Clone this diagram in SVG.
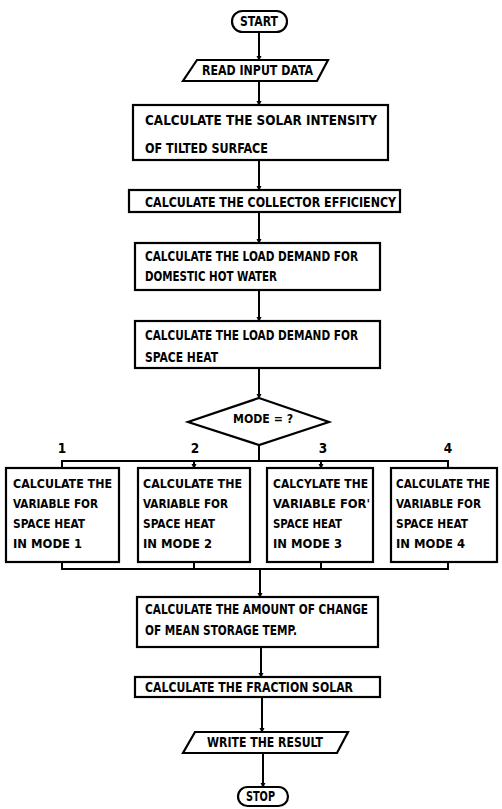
<svg xmlns="http://www.w3.org/2000/svg" width="502" height="809" viewBox="0 0 502 809">
<style>
.b{fill:#fff;stroke:#000;stroke-width:2.2}
.t{font-family:"DejaVu Sans Condensed","DejaVu Sans",sans-serif;font-weight:bold;font-size:13.5px;fill:#000}
.m{font-size:12.5px}
.c{fill:none;stroke:#000;stroke-width:2}
</style>
<defs>
<marker id="d" markerUnits="userSpaceOnUse" markerWidth="6" markerHeight="6" refX="3" refY="4" viewBox="0 0 6 6">
<path d="M0.5,0 L5.5,0 L3,5 Z" fill="#000"/>
</marker>
</defs>
<rect width="502" height="809" fill="#fff"/>
<g id="connectors">
<line class="c" x1="259" y1="32" x2="259" y2="60" marker-end="url(#d)"/>
<line class="c" x1="259" y1="81" x2="259" y2="105" marker-end="url(#d)"/>
<line class="c" x1="259" y1="160" x2="259" y2="190" marker-end="url(#d)"/>
<line class="c" x1="259" y1="212" x2="259" y2="243" marker-end="url(#d)"/>
<line class="c" x1="259" y1="290" x2="259" y2="321" marker-end="url(#d)"/>
<line class="c" x1="259" y1="368" x2="259" y2="398" marker-end="url(#d)"/>
<line class="c" x1="259" y1="445" x2="259" y2="461"/>
<polyline class="c" points="62,468 62,461 448,461 448,468"/>
<line class="c" x1="194" y1="461" x2="194" y2="468" marker-end="url(#d)"/>
<line class="c" x1="321" y1="461" x2="321" y2="468" marker-end="url(#d)"/>
<polyline class="c" points="62,562 62,569 448,569 448,562"/>
<line class="c" x1="194" y1="562" x2="194" y2="569"/>
<line class="c" x1="321" y1="562" x2="321" y2="569"/>
<line class="c" x1="260" y1="569" x2="260" y2="597" marker-end="url(#d)"/>
<line class="c" x1="261" y1="647" x2="261" y2="677" marker-end="url(#d)"/>
<line class="c" x1="262" y1="697" x2="262" y2="732" marker-end="url(#d)"/>
<line class="c" x1="263" y1="753" x2="263" y2="787" marker-end="url(#d)"/>
</g>
<g id="start">
<rect class="b" x="232" y="11" width="55" height="21" rx="10.5"/>
<text class="t" x="240" y="26" textLength="38" lengthAdjust="spacingAndGlyphs">START</text>
</g>
<g id="read">
<polygon class="b" points="197,60 328,60 317,81 183,81"/>
<text class="t" x="202" y="75" textLength="111" lengthAdjust="spacingAndGlyphs">READ INPUT DATA</text>
</g>
<g id="solar">
<rect class="b" x="133" y="105" width="255" height="55"/>
<text class="t" x="145" y="125" textLength="232" lengthAdjust="spacingAndGlyphs">CALCULATE THE SOLAR INTENSITY</text>
<text class="t" x="145" y="153" textLength="123" lengthAdjust="spacingAndGlyphs">OF TILTED SURFACE</text>
</g>
<g id="efficiency">
<rect class="b" x="129" y="190" width="271" height="22"/>
<text class="t" x="145" y="207" textLength="251" lengthAdjust="spacingAndGlyphs">CALCULATE THE COLLECTOR EFFICIENCY</text>
</g>
<g id="hotwater">
<rect class="b" x="135" y="243" width="245" height="47"/>
<text class="t" x="145" y="261" textLength="213" lengthAdjust="spacingAndGlyphs">CALCULATE THE LOAD DEMAND FOR</text>
<text class="t" x="145" y="281" textLength="132" lengthAdjust="spacingAndGlyphs">DOMESTIC HOT WATER</text>
</g>
<g id="spaceheat">
<rect class="b" x="135" y="321" width="245" height="47"/>
<text class="t" x="145" y="340" textLength="213" lengthAdjust="spacingAndGlyphs">CALCULATE THE LOAD DEMAND FOR</text>
<text class="t" x="145" y="362" textLength="73" lengthAdjust="spacingAndGlyphs">SPACE HEAT</text>
</g>
<g id="mode">
<polygon class="b" points="259,398 329,422 259,445 188,422"/>
<text class="t" x="233" y="423" textLength="60" lengthAdjust="spacingAndGlyphs" style="font-size:11.5px">MODE = ?</text>
</g>
<g id="labels">
<text class="t" x="62" y="453" text-anchor="middle">1</text>
<text class="t" x="195" y="453" text-anchor="middle">2</text>
<text class="t" x="323" y="453" text-anchor="middle">3</text>
<text class="t" x="448" y="453" text-anchor="middle">4</text>
</g>
<g id="mode1">
<rect class="b" x="6" y="468" width="113" height="94"/>
<text class="t m" x="13" y="488" textLength="99" lengthAdjust="spacingAndGlyphs">CALCULATE THE</text>
<text class="t m" x="13" y="508" textLength="85" lengthAdjust="spacingAndGlyphs">VARIABLE FOR</text>
<text class="t m" x="13" y="528" textLength="72" lengthAdjust="spacingAndGlyphs">SPACE HEAT</text>
<text class="t m" x="13" y="548" textLength="69" lengthAdjust="spacingAndGlyphs">IN MODE 1</text>
</g>
<g id="mode2">
<rect class="b" x="138" y="468" width="112" height="94"/>
<text class="t m" x="143" y="488" textLength="99" lengthAdjust="spacingAndGlyphs">CALCULATE THE</text>
<text class="t m" x="143" y="508" textLength="85" lengthAdjust="spacingAndGlyphs">VARIABLE FOR</text>
<text class="t m" x="143" y="528" textLength="72" lengthAdjust="spacingAndGlyphs">SPACE HEAT</text>
<text class="t m" x="143" y="548" textLength="69" lengthAdjust="spacingAndGlyphs">IN MODE 2</text>
</g>
<g id="mode3">
<rect class="b" x="267" y="468" width="106" height="94"/>
<text class="t m" x="273" y="488" textLength="95" lengthAdjust="spacingAndGlyphs">CALCYLATE THE</text>
<text class="t m" x="273" y="508" textLength="97" lengthAdjust="spacingAndGlyphs">VARIABLE FOR'</text>
<text class="t m" x="273" y="528" textLength="69" lengthAdjust="spacingAndGlyphs">SPACE HEAT</text>
<text class="t m" x="273" y="548" textLength="69" lengthAdjust="spacingAndGlyphs">IN MODE 3</text>
</g>
<g id="mode4">
<rect class="b" x="391" y="468" width="106" height="94"/>
<text class="t m" x="396" y="488" textLength="94" lengthAdjust="spacingAndGlyphs">CALCULATE THE</text>
<text class="t m" x="396" y="508" textLength="85" lengthAdjust="spacingAndGlyphs">VARIABLE FOR</text>
<text class="t m" x="396" y="528" textLength="72" lengthAdjust="spacingAndGlyphs">SPACE HEAT</text>
<text class="t m" x="396" y="548" textLength="69" lengthAdjust="spacingAndGlyphs">IN MODE 4</text>
</g>
<g id="storage">
<rect class="b" x="137" y="597" width="241" height="50"/>
<text class="t" x="145" y="614" textLength="223" lengthAdjust="spacingAndGlyphs">CALCULATE THE AMOUNT OF CHANGE</text>
<text class="t" x="145" y="635" textLength="152" lengthAdjust="spacingAndGlyphs">OF MEAN STORAGE TEMP.</text>
</g>
<g id="fraction">
<rect class="b" x="135" y="677" width="245" height="20"/>
<text class="t" x="145" y="692" textLength="208" lengthAdjust="spacingAndGlyphs">CALCULATE THE FRACTION SOLAR</text>
</g>
<g id="write">
<polygon class="b" points="195,732 348,732 337,753 183,753"/>
<text class="t" x="207" y="747" textLength="116" lengthAdjust="spacingAndGlyphs">WRITE THE RESULT</text>
</g>
<g id="stop">
<rect class="b" x="238" y="787" width="50" height="19" rx="9.5"/>
<text class="t" x="246" y="801" textLength="29" lengthAdjust="spacingAndGlyphs">STOP</text>
</g>
</svg>
